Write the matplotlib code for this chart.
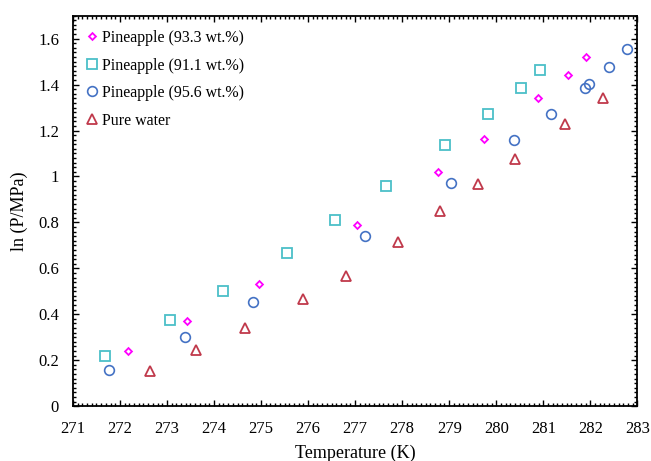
import numpy as np
import matplotlib
matplotlib.use('Agg')
from matplotlib import pyplot as plt
from matplotlib.ticker import MultipleLocator

plt.rcParams['font.family'] = ['Liberation Serif', 'DejaVu Serif']

# Pineapple 93.3 wt.%
t_933 = [272.17, 273.43, 274.96, 277.04, 278.77, 279.74, 280.89, 281.53, 281.91]
p_933 = [0.239, 0.370, 0.530, 0.790, 1.020, 1.165, 1.340, 1.440, 1.520]

# Pineapple 91.1 wt.%
t_911 = [271.68, 273.06, 274.19, 275.55, 276.57, 277.66, 278.91, 279.83, 280.53, 280.94]
p_911 = [0.220, 0.375, 0.500, 0.665, 0.810, 0.957, 1.135, 1.274, 1.387, 1.465]

# Pineapple 95.6 wt.%
t_956 = [271.77, 273.38, 274.83, 277.21, 279.04, 280.38, 281.17, 281.89, 281.98, 282.40, 282.77]
p_956 = [0.157, 0.300, 0.452, 0.740, 0.970, 1.160, 1.274, 1.387, 1.402, 1.478, 1.557]

# Pure water
t_w = [272.64, 273.62, 274.66, 275.89, 276.81, 277.91, 278.81, 279.62, 280.40, 281.47, 282.26]
p_w = [0.152, 0.243, 0.339, 0.465, 0.565, 0.713, 0.848, 0.965, 1.074, 1.230, 1.343]

xticks = [271, 272, 273, 274, 275, 276, 277, 278, 279, 280, 281, 282, 283]
yticks = [0, 0.2, 0.4, 0.6, 0.8, 1.0, 1.2, 1.4, 1.6]
ylabels = ['0', '0.2', '0.4', '0.6', '0.8', '1', '1.2', '1.4', '1.6']

fig = plt.figure(figsize=(6.51, 4.61), dpi=100)
ax = fig.add_axes([0.112, 0.119, 0.867, 0.847])

ax.plot(t_933, p_933, 'D', ms=3.5, mfc='none', mec='#FF00FF', mew=1.3, label='Pineapple (93.3 wt.%)')
ax.plot(t_911, p_911, 's', ms=7, mfc='none', mec='#4BBFC8', mew=1.3, label='Pineapple (91.1 wt.%)')
ax.plot(t_956, p_956, 'o', ms=7, mfc='none', mec='#4472C4', mew=1.2, label='Pineapple (95.6 wt.%)')
ax.plot(t_w, p_w, '^', ms=7, mfc='none', mec='#C0394B', mew=1.3, label='Pure water')

ax.set_xlim(271, 283)
ax.set_ylim(0, 1.7)
ax.set_xticks(xticks)
ax.set_yticks(yticks)
ax.set_yticklabels(ylabels)
ax.xaxis.set_minor_locator(MultipleLocator(0.1))
ax.yaxis.set_minor_locator(MultipleLocator(0.02))
ax.tick_params(which='both', direction='in', top=True, right=True, labelsize=12, width=1)
ax.tick_params(axis='x', which='major', length=4, pad=11)
ax.tick_params(axis='y', which='major', length=4, pad=10)
ax.tick_params(which='minor', length=2.5)
for s in ax.spines.values():
    s.set_linewidth(1.3)

ax.set_xlabel('Temperature (K)', fontsize=13, labelpad=5)
ax.set_ylabel('ln (P/MPa)', fontsize=13, labelpad=7)

ax.legend(loc='upper left', frameon=False, fontsize=11.5, handletextpad=0.1,
          handlelength=1.0, labelspacing=0.72, borderaxespad=0.5,
          bbox_to_anchor=(-0.005, 1.0))

plt.savefig('out.png', dpi=100)
